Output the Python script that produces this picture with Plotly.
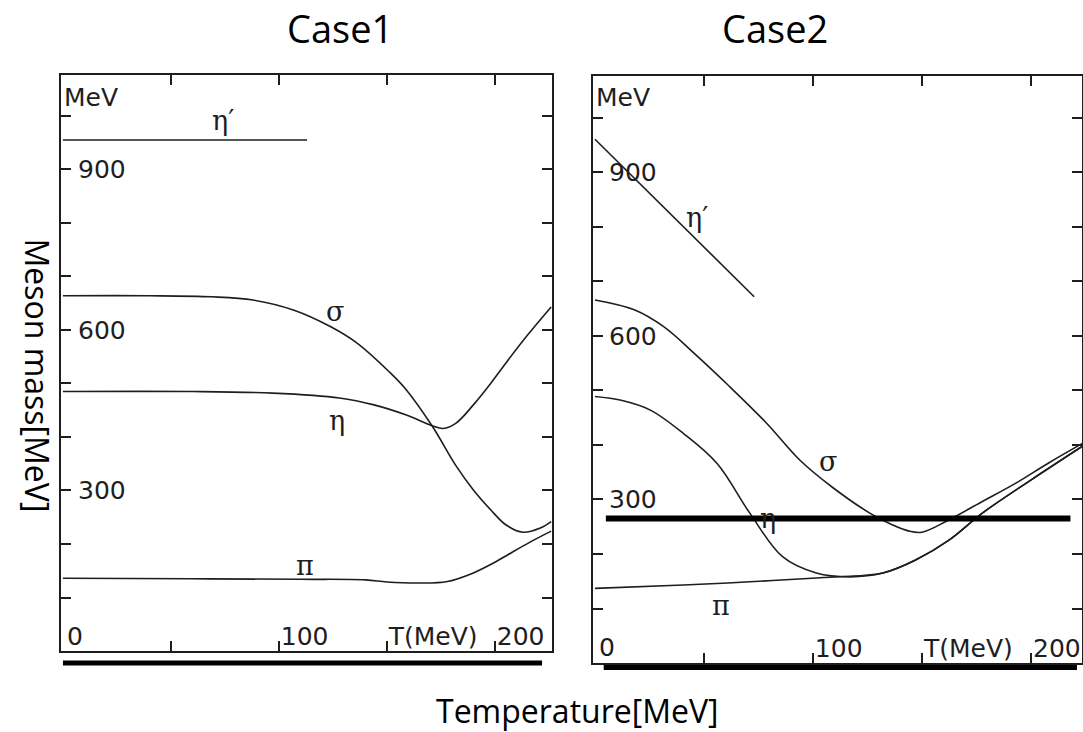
import plotly.graph_objects as go

# ---------------- Case1 : meson masses vs temperature ----------------
c1_etap_T = [0, 113]
c1_etap_M = [955, 955]

c1_sigma_T = [0, 40, 69, 88, 107, 124, 136, 151, 159, 171, 182, 190, 198, 205, 213, 221, 226]
c1_sigma_M = [664, 664, 662, 656, 637, 606, 576, 522, 488, 420, 346, 301, 264, 236, 222, 230, 242]

c1_eta_T = [0, 60, 97, 128, 144, 159, 171, 176, 182, 190, 198, 205, 215, 226]
c1_eta_M = [485, 485, 482, 473, 460, 441, 421, 416, 426, 460, 500, 538, 590, 643]

c1_pi_T = [0, 60, 110, 140, 150, 165, 178, 190, 200, 206, 216, 226]
c1_pi_M = [136, 135, 134, 133, 129, 127, 130, 146, 166, 180, 203, 224]

# ---------------- Case2 ----------------
c2_etap_T = [0, 73]
c2_etap_M = [961, 672]

c2_sigma_T = [0, 18, 31.5, 45, 61, 78.7, 94, 109, 126, 136, 144, 150, 162, 177, 193, 208, 224]
c2_sigma_M = [666, 648, 617, 570, 510, 440, 372, 322, 275, 254, 242, 240, 262, 295, 330, 367, 404]

c2_eta_T = [0, 12, 25.4, 40.6, 56, 71, 86, 101.5, 117, 132, 147, 162.5, 177.6, 200, 224]
c2_eta_M = [489, 482, 464, 421, 366, 275, 195, 165, 158, 165, 189, 226, 275, 336, 399]

c2_pi_T = [0, 40.6, 71, 101.5, 124, 132, 147, 162.5, 177.6, 200, 224]
c2_pi_M = [137, 143, 149, 156, 161, 165, 189, 226, 275, 336, 399]

c2_level_T = [5, 218]
c2_level_M = [265, 265]

# axis ticks and labels
x_tickvals = [0, 50, 100, 150, 200]
x_ticktext = ["0", "", "100", "T(MeV)", "200"]
y_tickvals = [100, 200, 300, 400, 500, 600, 700, 800, 900, 1000]
y_ticktext = ["", "", "300", "", "", "600", "", "", "900", ""]

# curve label positions (T, M)
c1_labels = [("η′", 74, 992), ("σ", 126, 634), ("η", 127, 430), ("π", 112, 160)]
c2_labels = [("η′", 47, 818), ("σ", 107, 369), ("η", 79.5, 266), ("π", 58, 106)]

INK = "#1e1e1e"
W, H = 1083, 732

fig = go.Figure()

def curve(T, M, ax, width=1.6):
    fig.add_trace(go.Scatter(
        x=T, y=M, mode="lines", xaxis=ax[0], yaxis=ax[1],
        line=dict(color=INK, width=width, shape="spline", smoothing=1.0),
        showlegend=False, hoverinfo="skip"))

for T, M in [(c1_etap_T, c1_etap_M), (c1_sigma_T, c1_sigma_M),
             (c1_eta_T, c1_eta_M), (c1_pi_T, c1_pi_M)]:
    curve(T, M, ("x", "y"))

for T, M in [(c2_etap_T, c2_etap_M), (c2_sigma_T, c2_sigma_M),
             (c2_eta_T, c2_eta_M), (c2_pi_T, c2_pi_M)]:
    curve(T, M, ("x2", "y2"))

# thick reference level in Case2
fig.add_trace(go.Scatter(
    x=c2_level_T, y=c2_level_M, mode="lines", xaxis="x2", yaxis="y2",
    line=dict(color="black", width=6), showlegend=False, hoverinfo="skip"))

tick_font = dict(family="DejaVu Sans", size=25, color=INK)

def xaxis_style(domain, rng):
    return dict(domain=domain, range=rng, tickvals=x_tickvals, ticktext=x_ticktext,
                ticks="inside", ticklen=10, tickwidth=1.6, tickcolor=INK,
                ticklabelposition="inside right", tickfont=tick_font,
                showline=True, linecolor=INK, linewidth=2, mirror="ticks",
                showgrid=False, zeroline=False, fixedrange=True)

def yaxis_style(domain, rng, anchor, standoff):
    return dict(domain=domain, range=rng, tickvals=y_tickvals, ticktext=y_ticktext,
                ticks="inside", ticklen=10, tickwidth=1.6, tickcolor=INK,
                ticklabelposition="inside", ticklabelstandoff=standoff,
                tickfont=tick_font, anchor=anchor,
                showline=True, linecolor=INK, linewidth=2, mirror="ticks",
                showgrid=False, zeroline=False, fixedrange=True)

fig.update_layout(
    width=W, height=H,
    margin=dict(l=0, r=0, t=0, b=0),
    paper_bgcolor="white", plot_bgcolor="white",
    xaxis=xaxis_style([61 / W, 552 / W], [-0.9, 226.4]),
    yaxis=yaxis_style([(H - 651) / H, (H - 75) / H], [0, 1076.6], "x", 9),
    xaxis2=dict(xaxis_style([593 / W, 1082 / W], [-0.9, 223.3]), anchor="y2"),
    yaxis2=yaxis_style([(H - 663) / H, (H - 76) / H], [0, 1077], "x2", 8),
)

greek_font = dict(family="DejaVu Serif", size=27, color=INK)
for txt, t, m in c1_labels:
    fig.add_annotation(x=t, y=m, xref="x", yref="y", text=txt, showarrow=False, font=greek_font)
for txt, t, m in c2_labels:
    fig.add_annotation(x=t, y=m, xref="x2", yref="y2", text=txt, showarrow=False, font=greek_font)

# unit marker at the top of each vertical axis, and the origin label
for xr, yr, m in [("x", "y", 1035), ("x2", "y2", 1038)]:
    fig.add_annotation(x=0, y=m, xref=xr + " domain", yref=yr, text="MeV", xanchor="left",
                       xshift=1, showarrow=False, font=tick_font)
    fig.add_annotation(x=x_tickvals[0], y=28, xref=xr, yref=yr, text=x_ticktext[0],
                       xanchor="left", xshift=2, showarrow=False, font=tick_font)

# heavy underline beneath each panel
fig.add_shape(type="line", xref="x", yref="y domain", x0=0, x1=221.8, y0=-0.021, y1=-0.021,
              line=dict(color="black", width=5))
fig.add_shape(type="line", xref="x2", yref="y2 domain", x0=4, x1=221, y0=-0.0075, y1=-0.0075,
              line=dict(color="black", width=5))

# panel titles and shared axis titles
title_font = dict(family="Open Sans", size=38, color="black")
fig.add_annotation(x=285 / W, y=1, yanchor="top", xref="paper", yref="paper", text="Case1",
                   showarrow=False, font=title_font)
fig.add_annotation(x=830 / W, y=1, yanchor="top", xref="paper", yref="paper", text="Case2",
                   showarrow=False, font=title_font)
axis_title_font = dict(family="Open Sans", size=32, color="black")
fig.add_annotation(x=577 / W, y=(H - 734) / H, xref="paper", yref="paper",
                   text="Temperature[MeV]", showarrow=False, font=axis_title_font)
fig.add_annotation(x=14 / W, y=(H - 375) / H, xref="paper", yref="paper",
                   text="Meson mass[MeV]", textangle=90, showarrow=False, font=axis_title_font)

fig.write_html("out.html")
